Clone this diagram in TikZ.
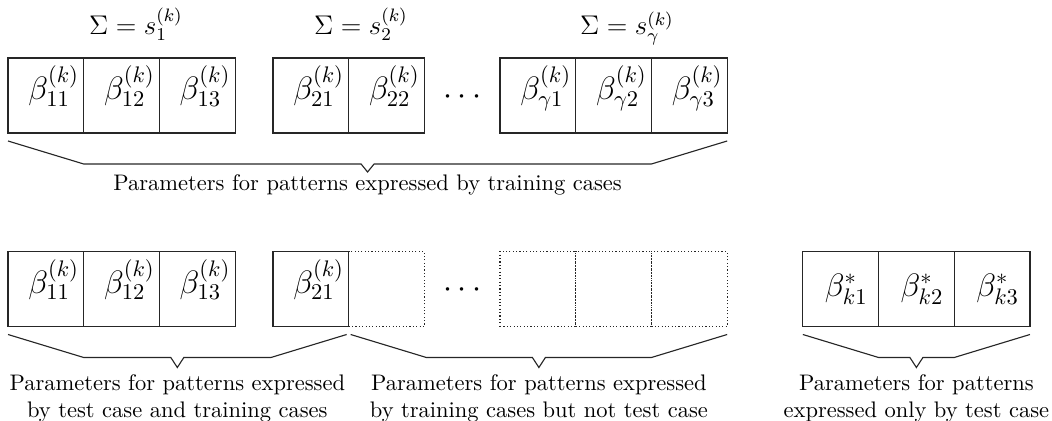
\documentclass[tikz,border=0pt]{standalone}
\usetikzlibrary{calc}
\begin{document}
\begin{tikzpicture}[x=0.4444pt,y=-0.4444pt,line width=0.5pt,
  cell/.style={draw=black!85,minimum width=33.64pt,minimum height=33.33pt,inner sep=0pt,outer sep=0pt,font=\Large},
  kcell/.style={cell,text height=9.6pt,text depth=6pt,execute at begin node=\hspace*{7pt}},
  scell/.style={cell,execute at begin node=\hspace*{5pt}},
  dcell/.style={cell,densely dotted},
  dotsnode/.style={inner sep=0pt,font=\Large},
  sumlab/.style={anchor=base,font=\large,inner sep=0pt},
  brace/.style={draw=black!85,line join=miter},
  blab/.style={align=center,anchor=north,inner sep=0pt}]
\useasboundingbox (0,0) rectangle (1052,421);

% ---- top row ----
\node[kcell] (t11) at (45.85,95.5) {$\beta^{(k)}_{11}$};
\node[kcell] (t12) at (121.55,95.5) {$\beta^{(k)}_{12}$};
\node[kcell] (t13) at (197.25,95.5) {$\beta^{(k)}_{13}$};
\node[kcell] (t21) at (310.8,95.5) {$\beta^{(k)}_{21}$};
\node[kcell] (t22) at (386.5,95.5) {$\beta^{(k)}_{22}$};
\node[dotsnode] (tdots) at (462.2,97) {$\cdots$};
\node[kcell] (t31) at (537.9,95.5) {$\beta^{(k)}_{\gamma1}$};
\node[kcell] (t32) at (613.6,95.5) {$\beta^{(k)}_{\gamma2}$};
\node[kcell] (t33) at (689.3,95.5) {$\beta^{(k)}_{\gamma3}$};

\node[sumlab] (s1) at (136,35) {$\Sigma = s_1^{(k)}$};
\node[sumlab] (s2) at (361,35) {$\Sigma = s_2^{(k)}$};
\node[sumlab] (s3) at (627,35) {$\Sigma = s_\gamma^{(k)}$};

% top brace
\coordinate (tA) at ($(t11.south west)+(0,8)$);
\coordinate (tB) at ($(t33.south east)+(0,8)$);
\coordinate (tM) at ($(tA)!0.5!(tB)$);
\draw[brace] (tA) -- ++(75.7,23) -- ($(tM)+(-6.5,23)$) -- ($(tM)+(0,31)$) -- ($(tM)+(6.5,23)$) -- ($(tB)+(-75.7,23)$) -- (tB);
\node[anchor=base,inner sep=0pt] (tlab) at ($(tM)+(0,50)$) {Parameters for patterns expressed by training cases};

% ---- bottom row ----
\node[kcell] (b11) at (45.85,289) {$\beta^{(k)}_{11}$};
\node[kcell] (b12) at (121.55,289) {$\beta^{(k)}_{12}$};
\node[kcell] (b13) at (197.25,289) {$\beta^{(k)}_{13}$};
\node[dcell] (b21d) at (310.8,289) {};
\node[kcell] (b21) at (310.8,289) {$\beta^{(k)}_{21}$};
\node[dcell] (b22) at (386.5,289) {};
\node[dotsnode] (bdots) at (462.2,290.5) {$\cdots$};
\node[dcell] (b31) at (537.9,289) {};
\node[dcell] (b32) at (613.6,289) {};
\node[dcell] (b33) at (689.3,289) {};
\node[scell] (r1) at (840.7,289) {$\beta^{*}_{k1}$};
\node[scell] (r2) at (916.4,289) {$\beta^{*}_{k2}$};
\node[scell] (r3) at (992.1,289) {$\beta^{*}_{k3}$};

% brace 1: test case and training cases
\coordinate (lA) at ($(b11.south west)+(0,8)$);
\coordinate (lB) at ($(b21.south east)+(-2,8)$);
\coordinate (lM) at ($(lA)!0.5!(lB)$);
\draw[brace] (lA) -- ++(75.7,23) -- ($(lM)+(-6.5,23)$) -- ($(lM)+(0,33)$) -- ($(lM)+(6.5,23)$) -- ($(lB)+(-75.7,23)$) -- (lB);
\node[blab] (llab) at ($(lM)+(0,40)$) {Parameters for patterns expressed\\by test case and training cases};

% brace 2: training cases but not test case
\coordinate (mA) at ($(b21.south east)+(2,8)$);
\coordinate (mB) at ($(b33.south east)+(0,8)$);
\coordinate (mM) at ($(mA)!0.5!(mB)$);
\draw[brace] (mA) -- ++(75.7,23) -- ($(mM)+(-6.5,23)$) -- ($(mM)+(0,33)$) -- ($(mM)+(6.5,23)$) -- ($(mB)+(-75.7,23)$) -- (mB);
\node[blab] (mlab) at ($(mM)+(0,40)$) {Parameters for patterns expressed\\by training cases but not test case};

% brace 3: only test case
\coordinate (rA) at ($(r1.south west)+(0,8)$);
\coordinate (rB) at ($(r3.south east)+(0,8)$);
\coordinate (rM) at ($(rA)!0.5!(rB)$);
\draw[brace] (rA) -- ++(75.7,23) -- ($(rM)+(-6.5,23)$) -- ($(rM)+(0,33)$) -- ($(rM)+(6.5,23)$) -- ($(rB)+(-75.7,23)$) -- (rB);
\node[blab] (rlab) at ($(rM)+(0,40)$) {Parameters for patterns\\expressed only by test case};
\end{tikzpicture}
\end{document}
